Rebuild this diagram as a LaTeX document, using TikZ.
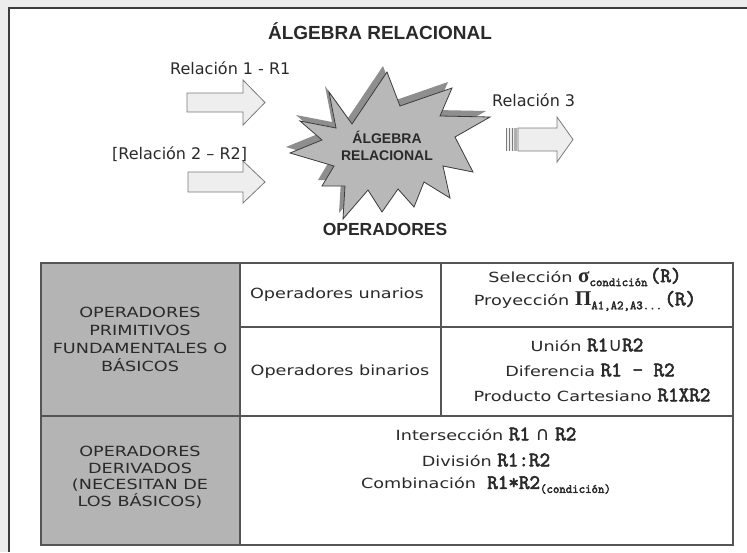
\documentclass[tikz,border=0pt]{standalone}
\usepackage{fontspec}
\setmainfont{DejaVu Sans}
\newfontfamily\txt[FakeStretch=1.26]{DejaVu Sans}
\newfontfamily\hd{Liberation Sans}
\newfontfamily\symf{DejaVu Sans}
\newfontfamily\mono[FakeBold=3]{Latin Modern Mono}
\newfontfamily\grk{Liberation Serif}
\definecolor{bgc}{HTML}{ECECEC}
\definecolor{framec}{HTML}{3C3C3C}
\definecolor{cellg}{HTML}{B4B4B4}
\definecolor{linec}{HTML}{555555}
\definecolor{arrowf}{HTML}{EEEEEE}
\definecolor{arrowd}{HTML}{7A7A7A}
\definecolor{starf}{HTML}{B8B8B8}
\definecolor{stars}{HTML}{8E8E8E}
\definecolor{txtc}{HTML}{2A2A2A}
\newcommand{\mb}[1]{{\mono\fontsize{20.5}{20.5}\selectfont #1}}
\newcommand{\msub}[1]{\raisebox{-4pt}{\mono\fontsize{12.5}{12.5}\selectfont #1}}
\newcommand{\gk}[1]{{\grk\bfseries\fontsize{21}{21}\selectfont #1}}
\newcommand{\setop}[1]{{\symf\fontsize{19}{19}\selectfont #1}}
\tikzset{
  lbl/.style={font=\fontsize{16}{18}\selectfont, text=txtc, inner sep=0},
  hdr/.style={font=\hd\bfseries\fontsize{19}{20}\selectfont, text=txtc, inner sep=0},
  celltxt/.style={font=\txt\fontsize{14}{18}\selectfont, text=txtc, inner sep=0, align=center},
  opline/.style={font=\txt\fontsize{14}{18}\selectfont, text=txtc, inner sep=0},
  bigarrow/.style={fill=arrowf, draw=arrowd, line width=0.8pt, line join=miter},
  grid/.style={draw=linec, line width=1.6pt},
}
\begin{document}
\begin{tikzpicture}[x=1pt,y=-1pt]
\useasboundingbox (0,0) rectangle (747,552);
\fill[bgc] (0,0) rectangle (747,552);
\fill[white] (9,8) rectangle (747,552);
\draw[framec, line width=2pt] (747,8) -- (9,8) -- (9,552);

% title
\node[hdr] (title) at (380,31) {ÁLGEBRA RELACIONAL};

% input labels and arrows
\node[lbl, anchor=west] (r1lbl) at (170,68) {Relación 1 - R1};
\draw[bigarrow] (187,93) -- (243,93) -- (243,80) -- (265,102.5) -- (243,125) -- (243,112) -- (187,112) -- cycle;
\coordinate (a1) at (265,102.5);
\node[lbl, anchor=west] (r2lbl) at (112,154) {[Relación 2 – R2]};
\draw[bigarrow] (188,172) -- (243,172) -- (243,161) -- (265,182) -- (243,203) -- (243,192) -- (188,192) -- cycle;
\coordinate (a2) at (265,182);

% star
\begin{scope}[shift={(-4,-6)}]
\fill[stars] (329,92) -- (352,124) -- (387,72) -- (400,106) -- (452,88) -- (440,116) -- (490,117) -- (455,137) -- (473,172) -- (443,166) -- (450,198) -- (424,182) -- (414,207) -- (398,189) -- (382,212) -- (368,190) -- (343,219) -- (345,186) -- (322,186) -- (334,166) -- (290,153) -- (322,140) -- (300,121) -- (336,128) -- cycle;
\end{scope}
\draw[fill=starf, draw=framec, line width=0.8pt, line join=miter] (329,92) -- (352,124) -- (387,72) -- (400,106) -- (452,88) -- (440,116) -- (490,117) -- (455,137) -- (473,172) -- (443,166) -- (450,198) -- (424,182) -- (414,207) -- (398,189) -- (382,212) -- (368,190) -- (343,219) -- (345,186) -- (322,186) -- (334,166) -- (290,153) -- (322,140) -- (300,121) -- (336,128) -- cycle;
\node[font=\hd\bfseries\fontsize{14}{17}\selectfont, text=txtc, align=center, inner sep=0] (startxt) at (387,146) {ÁLGEBRA\\RELACIONAL};
\node[hdr, font=\hd\bfseries\fontsize{17.5}{20}\selectfont] (ops) at (385,229) {OPERADORES};

% output
\node[lbl, anchor=west] (r3lbl) at (492,100) {Relación 3};
\fill[arrowf] (506,128) rectangle (519,151);
\draw[arrowd, line width=0.8pt] (506,128) -- (506,151) (509,128) -- (509,151) (512,128) -- (512,151);
\fill[arrowd!60] (513.5,128) rectangle (516.5,151);
\draw[bigarrow] (518,128) -- (557,128) -- (557,117) -- (573,139.5) -- (557,162) -- (557,151) -- (518,151) -- cycle;
\coordinate (a3) at (573,139.5);

% table
\fill[cellg] (41,263) rectangle (240,545);
\draw[grid] (41,263) rectangle (733,545);
\draw[grid] (240,263) -- (240,545);
\draw[grid] (441,263) -- (441,416);
\draw[grid] (41,416) -- (733,416);
\draw[grid] (240,327) -- (733,327);

\node[celltxt] (prim) at (140,339) {OPERADORES\\PRIMITIVOS\\FUNDAMENTALES O\\BÁSICOS};
\node[celltxt, font=\txt\fontsize{14}{16.5}\selectfont] (deriv) at (140,477) {OPERADORES\\DERIVADOS\\(NECESITAN DE\\LOS BÁSICOS)};
\node[opline] (unar) at (337,295) {Operadores unarios};
\node[opline] (bina) at (340,372) {Operadores binarios};

\node[opline] (sel) at (585,277) {Selección \gk{σ}\msub{condición}\,\mb{(R)}};
\node[opline] (proy) at (585,301) {Proyección \gk{Π}\msub{A1,A2,A3...}\,\mb{(R)}};
\node[opline] (union) at (587,345) {Unión \mb{R1}\setop{∪}\mb{R2}};
\node[opline] (dif) at (590,370) {Diferencia \mb{R1 - R2}};
\node[opline] (prod) at (592,395) {Producto Cartesiano \mb{R1XR2}};

\node[opline] (inter) at (486,434) {Intersección \mb{R1} \setop{∩} \mb{R2}};
\node[opline] (divi) at (486,460) {División \mb{R1:R2}};
\node[opline] (comb) at (486,485) {Combinación \ \mb{R1*R2}\msub{(condición)}};
\end{tikzpicture}
\end{document}
